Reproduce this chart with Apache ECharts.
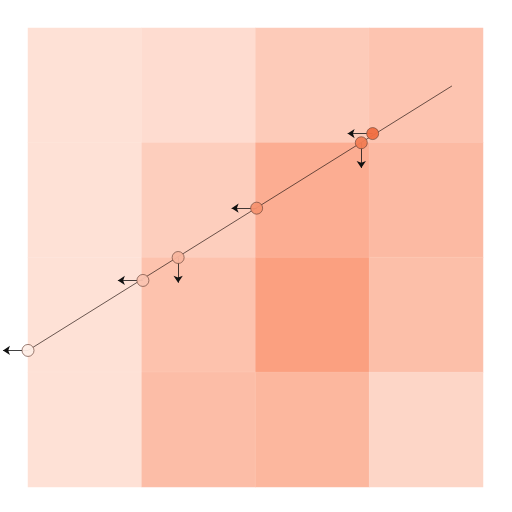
<!DOCTYPE html>
<html><head><meta charset="utf-8">
<script src="https://cdn.jsdelivr.net/npm/echarts@6/dist/echarts.min.js"></script>
<style>html,body{margin:0;padding:0;background:#fff}#c{width:512px;height:512px}</style>
</head><body><div id="c"></div>
<script>
// heatmap cell shades, rows listed from top to bottom, columns left to right
const colCats = ['c1', 'c2', 'c3', 'c4'];
const rowCats = ['r1', 'r2', 'r3', 'r4']; // bottom to top
const rowTop = [0.3, 1.0, 3.6, 4.6];
const row2 = [0.3, 3.2, 8.0, 6.1];
const row3 = [0.3, 5.0, 10.0, 5.4];
const rowBottom = [0.3, 5.6, 6.6, 2.0];

// points (value axes 0..4 over the grid)
const pointX = [0.0, 1.01, 1.32, 2.01, 2.93, 3.03];
const pointY = [1.19, 1.80, 2.00, 2.43, 3.00, 3.08];
const pointShade = [0.5, 3.5, 4.5, 7.0, 8.6, 9.6];
const arrowDX = [-0.22, -0.22, 0, -0.22, 0, -0.22];
const arrowDY = [0, 0, -0.22, 0, -0.22, 0];

// fitted line end points
const lineX = [0.0, 3.727];
const lineY = [1.19, 3.495];

const rowsTopDown = [rowTop, row2, row3, rowBottom];
const heatData = [];
rowsTopDown.forEach((r, ri) => {
  r.forEach((v, ci) => heatData.push([ci, 3 - ri, v]));
});
const scatterData = pointX.map((x, i) => [x, pointY[i], pointShade[i]]);
const arrowData = pointX.map((x, i) => ({coords: [[x, pointY[i]], [x + arrowDX[i], pointY[i] + arrowDY[i]]]}));
const lineData = lineX.map((x, i) => [x, lineY[i]]);

const chart = echarts.init(document.getElementById('c'));
chart.setOption({
  animation: false,
  backgroundColor: '#fff',
  grid: {left: 28, right: 29, top: 28, bottom: 25},
  xAxis: [
    {type: 'category', data: colCats, show: false, gridIndex: 0},
    {type: 'value', min: 0, max: 4, show: false, gridIndex: 0}
  ],
  yAxis: [
    {type: 'category', data: rowCats, show: false, gridIndex: 0},
    {type: 'value', min: 0, max: 4, show: false, gridIndex: 0}
  ],
  visualMap: [
    {show: false, seriesIndex: 0, dimension: 2, min: 0, max: 10, inRange: {color: ['#fee3d9', '#fba080']}},
    {show: false, seriesIndex: 3, dimension: 2, min: 0, max: 10, inRange: {color: ['#fff4ef', '#f0683a']}}
  ],
  series: [
    {type: 'heatmap', xAxisIndex: 0, yAxisIndex: 0, data: heatData,
     itemStyle: {borderWidth: 0.5, borderColor: 'rgba(255,255,255,0.15)'}},
    {type: 'line', xAxisIndex: 1, yAxisIndex: 1, data: lineData, symbol: 'none',
     lineStyle: {color: '#2a1a16', width: 0.7}, z: 3},
    {type: 'lines', coordinateSystem: 'cartesian2d', xAxisIndex: 1, yAxisIndex: 1, data: arrowData,
     clip: false, symbol: ['none', 'arrow'], symbolSize: [0, 7],
     lineStyle: {color: '#111', width: 0.8, opacity: 1}, z: 4},
    {type: 'scatter', xAxisIndex: 1, yAxisIndex: 1, data: scatterData, symbolSize: 12, clip: false,
     itemStyle: {borderColor: '#6a4438', borderWidth: 0.7, opacity: 0.95}, z: 5}
  ]
});
</script></body></html>
